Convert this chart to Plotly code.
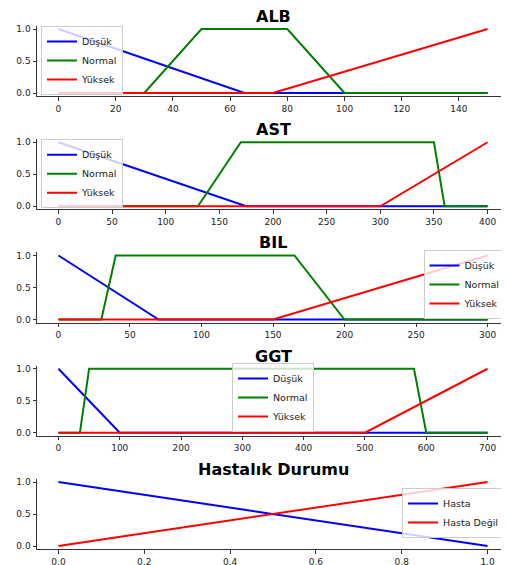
import plotly.graph_objects as go

# ---------------- data ----------------
titles = ["ALB", "AST", "BIL", "GGT", "Hastalık Durumu"]
x_ticks = [
    [0, 20, 40, 60, 80, 100, 120, 140],
    [0, 50, 100, 150, 200, 250, 300, 350, 400],
    [0, 50, 100, 150, 200, 250, 300],
    [0, 100, 200, 300, 400, 500, 600, 700],
    [0.0, 0.2, 0.4, 0.6, 0.8, 1.0],
]
x_max = [150, 400, 300, 700, 1.0]

alb_dusuk_x = [0, 65, 150]
alb_dusuk_y = [1, 0, 0]
alb_normal_x = [0, 30, 50, 80, 100, 150]
alb_normal_y = [0, 0, 1, 1, 0, 0]
alb_yuksek_x = [0, 75, 150]
alb_yuksek_y = [0, 0, 1]

ast_dusuk_x = [0, 175, 400]
ast_dusuk_y = [1, 0, 0]
ast_normal_x = [0, 130, 170, 350, 360, 400]
ast_normal_y = [0, 0, 1, 1, 0, 0]
ast_yuksek_x = [0, 300, 400]
ast_yuksek_y = [0, 0, 1]

bil_dusuk_x = [0, 70, 300]
bil_dusuk_y = [1, 0, 0]
bil_normal_x = [0, 30, 40, 165, 200, 300]
bil_normal_y = [0, 0, 1, 1, 0, 0]
bil_yuksek_x = [0, 150, 300]
bil_yuksek_y = [0, 0, 1]

ggt_dusuk_x = [0, 100, 700]
ggt_dusuk_y = [1, 0, 0]
ggt_normal_x = [0, 35, 50, 580, 600, 700]
ggt_normal_y = [0, 0, 1, 1, 0, 0]
ggt_yuksek_x = [0, 500, 700]
ggt_yuksek_y = [0, 0, 1]

hasta_x = [0.0, 1.0]
hasta_y = [1.0, 0.0]
hasta_degil_x = [0.0, 1.0]
hasta_degil_y = [0.0, 1.0]

series_names = ["Düşük", "Normal", "Yüksek"]
panels = [
    [(alb_dusuk_x, alb_dusuk_y), (alb_normal_x, alb_normal_y), (alb_yuksek_x, alb_yuksek_y)],
    [(ast_dusuk_x, ast_dusuk_y), (ast_normal_x, ast_normal_y), (ast_yuksek_x, ast_yuksek_y)],
    [(bil_dusuk_x, bil_dusuk_y), (bil_normal_x, bil_normal_y), (bil_yuksek_x, bil_yuksek_y)],
    [(ggt_dusuk_x, ggt_dusuk_y), (ggt_normal_x, ggt_normal_y), (ggt_yuksek_x, ggt_yuksek_y)],
]
colors = ["#0000ff", "#008000", "#ff0000"]

# ---------------- layout geometry ----------------
# the page places the figure 8px from the top-left corner (body margin)
OFF = 8
W, H = 509 - OFF, 565 - OFF
ML = 37 - OFF
FONT = "DejaVu Sans"
axis_h = 70.4
tops = [25.8 + 113.25 * i for i in range(5)]  # in window pixels

fig = go.Figure()

for i, panel in enumerate(panels):
    for (xs, ys), nm, c in zip(panel, series_names, colors):
        fig.add_trace(go.Scatter(
            x=xs, y=ys, mode="lines", name=nm,
            line=dict(color=c, width=2),
            xaxis="x" + (str(i + 1) if i else ""),
            yaxis="y" + (str(i + 1) if i else ""),
            legend="legend" + (str(i + 1) if i else ""),
        ))

for xs, ys, nm, c in [(hasta_x, hasta_y, "Hasta", "#0000ff"),
                      (hasta_degil_x, hasta_degil_y, "Hasta Değil", "#ff0000")]:
    fig.add_trace(go.Scatter(
        x=xs, y=ys, mode="lines", name=nm,
        line=dict(color=c, width=2),
        xaxis="x5", yaxis="y5", legend="legend5",
    ))

layout = dict(
    width=W, height=H,
    margin=dict(l=ML, r=0, t=0, b=0, pad=0),
    paper_bgcolor="white", plot_bgcolor="white",
    font=dict(family=FONT, size=9, color="#222"),
    annotations=[],
)

def px_x(p):
    return (p - OFF - ML) / (W - ML)

def px_y(p):
    return (H - (p - OFF)) / H

legend_specs = [
    dict(x=px_x(41), y=px_y(95), xanchor="left", yanchor="bottom"),
    dict(x=px_x(41), y=px_y(95 + 113.25), xanchor="left", yanchor="bottom"),
    dict(x=px_x(505.5), y=px_y(319), xanchor="right", yanchor="bottom"),
    dict(x=px_x(273), y=px_y(432), xanchor="center", yanchor="bottom"),
    dict(x=px_x(504), y=px_y(513), xanchor="right", yanchor="middle"),
]

for i in range(5):
    sfx = str(i + 1) if i else ""
    top = tops[i]
    bot = top + axis_h
    xm = x_max[i]
    layout["xaxis" + sfx] = dict(
        domain=[0, 1], anchor="y" + sfx,
        range=[-0.05 * xm, 1.05 * xm],
        tickvals=x_ticks[i],
        tickformat=".1f" if i == 4 else "d",
        showgrid=False, zeroline=False,
        showline=True, linecolor="#333", linewidth=1,
        ticks="outside", ticklen=3.5, tickwidth=1, tickcolor="#333",
        tickfont=dict(family=FONT, size=9, color="#222"),
        automargin=False, fixedrange=True,
    )
    layout["yaxis" + sfx] = dict(
        domain=[px_y(bot), px_y(top)], anchor="x" + sfx,
        range=[-0.05, 1.05],
        tickvals=[0, 0.5, 1.0], tickformat=".1f",
        showgrid=False, zeroline=False,
        showline=True, linecolor="#333", linewidth=1,
        ticks="outside", ticklen=3.5, tickwidth=1, tickcolor="#333",
        tickfont=dict(family=FONT, size=9, color="#222"),
        automargin=False, fixedrange=True,
    )
    spec = legend_specs[i]
    layout["legend" + sfx] = dict(
        x=spec["x"], y=spec["y"], xanchor=spec["xanchor"], yanchor=spec["yanchor"],
        xref="paper", yref="paper",
        bgcolor="rgba(255,255,255,0.8)", bordercolor="#cccccc", borderwidth=1,
        font=dict(family=FONT, size=9.5, color="#222"),
        itemwidth=30, tracegroupgap=0,
    )
    layout["annotations"].append(dict(
        text="<b>" + titles[i] + "</b>",
        x=0.5, xref="paper", y=px_y(top), yref="paper",
        xanchor="center", yanchor="bottom", yshift=-2,
        showarrow=False,
        font=dict(family=FONT, size=16, color="black"),
    ))

fig.update_layout(**layout)
fig.write_html("out.html")
